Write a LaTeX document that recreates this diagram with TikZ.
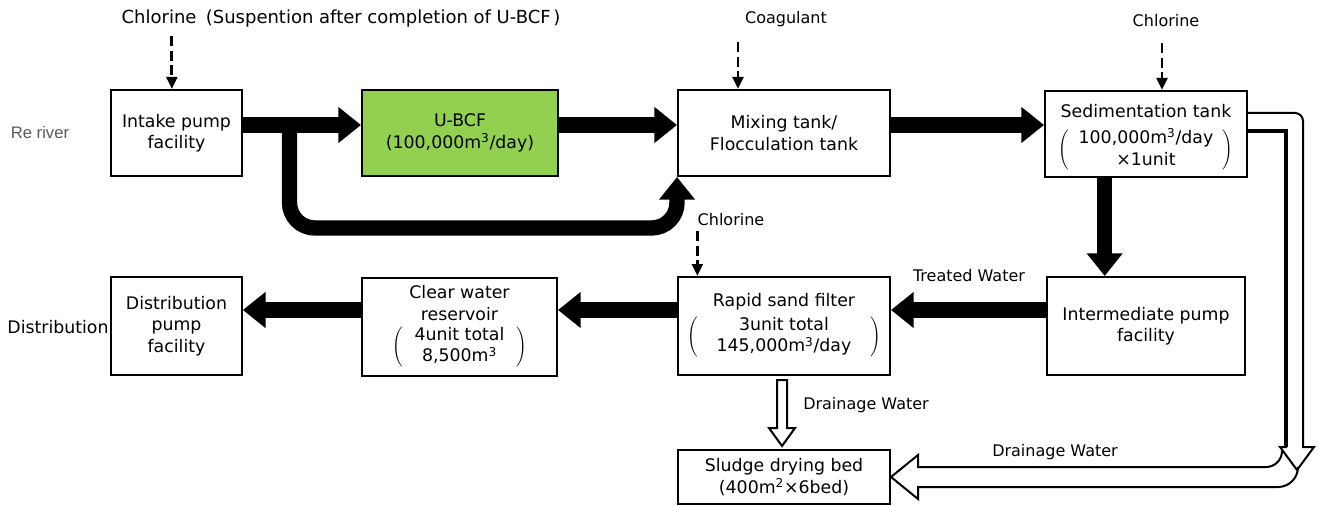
\documentclass[tikz,border=0pt]{standalone}
\usepackage{fontspec}
\setmainfont{DejaVu Sans}
\newfontfamily\riverfont{Liberation Sans}
\usetikzlibrary{arrows.meta}
\newcommand{\boxfont}{\fontsize{13}{16}\selectfont}
\newcommand{\tagfont}{\fontsize{12}{14}\selectfont}
\newcommand{\cub}{m\textsuperscript{3}}
\newcommand{\sqm}{m\textsuperscript{2}}
\newsavebox{\parenbox}
\newcommand{\paren}[2]{\sbox{\parenbox}{\begin{tabular}{@{\hspace{#1}}c@{\hspace{#1}}}#2\end{tabular}}%
  \raisebox{0pt}[\ht\parenbox][\dp\parenbox]{\delimitershortfall=7pt$\left(\usebox{\parenbox}\right)$}}

\begin{document}
\begin{tikzpicture}[x=0.75pt, y=-0.75pt]
  \tikzset{unit/.style={draw, line width=1.5pt, inner sep=0pt, align=center, font=\boxfont},
    flow/.style={line width=11.5pt, -{Triangle[width=26pt,length=17pt]}},
    feed/.style={line width=2.2pt, dash pattern=on 7.5pt off 3.5pt, -{Triangle[width=8pt,length=9pt]}},
    hollow/.style={line width=1.5pt, line join=miter},
    tag/.style={font=\tagfont, inner sep=1pt}}
  \useasboundingbox (0,0) rectangle (1319,506);
  % upper line
  \node[unit, minimum width=98pt, minimum height=64.5pt] (PU-in) at (176.5,133) {Intake pump\\facility};
  \node[unit, fill={rgb,255:red,146;green,208;blue,80}, minimum width=147pt, minimum height=64.5pt] (BCF) at (460,133) {U-BCF\\(100,000\cub/day)};
  \node[unit, minimum width=159pt, minimum height=64.5pt] (TK-mix) at (784,133) {Mixing tank/\\Flocculation tank};
  \node[unit, minimum width=151.5pt, minimum height=64.5pt] (TK-sed) at (1146,134) {\rule{0pt}{16pt}Sedimentation tank\\[7pt]\paren{7pt}{100,000\cub/day\\×1unit}};
  % lower line
  \node[unit, minimum width=148.5pt, minimum height=73.5pt] (PU-mid) at (1146,326) {Intermediate pump\\facility};
  \node[unit, minimum width=159pt, minimum height=73.5pt] (FL-sand) at (784,326) {Rapid sand filter\\[3pt]\paren{14pt}{3unit total\\145,000\cub/day}};
  \node[unit, minimum width=146.25pt, minimum height=73.5pt] (RS-clear) at (459.5,327) {Clear water\\reservoir\\[3pt]\paren{9pt}{4unit total\\8,500\cub}};
  \node[unit, minimum width=98pt, minimum height=73.5pt] (PU-out) at (176.5,326) {Distribution\\pump\\facility};
  \node[unit, minimum width=159pt, minimum height=41pt] (BD-sludge) at (784,477) {Sludge drying bed\\(400\sqm×6bed)};
  % texts
  \node[tag, font=\fontsize{13.5}{15}\selectfont] (CL-1) at (341,19) {Chlorine\hspace{7pt}(Suspention after completion of U-BCF\hspace{2pt})};
  \node[tag] (CO) at (786,19) {Coagulant};
  \node[tag] (CL-2) at (1166,21) {Chlorine};
  \node[tag] (CL-3) at (731,220) {Chlorine};
  \node[tag] (TW) at (969,276) {Treated Water};
  \node[tag] (DW-1) at (866,405) {Drainage Water};
  \node[tag] (DW-2) at (1055,452) {Drainage Water};
  \node[font=\riverfont\fontsize{12.5}{14}\selectfont, text=black!65] (RV) at (40,133) {Re river};
  \node[font=\boxfont, inner sep=0pt] (DS) at (58,327) {Distribution};
  % chemicals
  \coordinate (in-1) at ([xshift=-3.5pt]PU-in.north);
  \coordinate (in-2) at ([xshift=-34.5pt]TK-mix.north);
  \coordinate (in-3) at ([xshift=12pt]TK-sed.north);
  \coordinate (in-4) at ([xshift=-65pt]FL-sand.north);
  \draw[feed] (in-1) ++(0,-53) -- (in-1);
  \draw[feed] (in-2) ++(0,-47) -- (in-2);
  \draw[feed] (in-3) ++(0,-47) -- (in-3);
  \draw[feed] (in-4) ++(0,-45) -- (in-4);
  % water
  \draw[flow] ([yshift=6pt]PU-in.east) -- ([yshift=6pt]BCF.west);
  \draw[flow] ([yshift=6pt]BCF.east) -- ([yshift=6pt]TK-mix.west);
  \draw[flow] ([yshift=6pt]TK-mix.east) -- ([yshift=6.75pt]TK-sed.west);
  \coordinate (split) at ([xshift=35pt,yshift=6pt]PU-in.east);
  \draw[flow, rounded corners=19pt] (split) -- ++(0,103) -| (TK-mix.south west);
  \draw[flow] ([xshift=-31pt]TK-sed.south) -- ([xshift=-31pt]PU-mid.north);
  \draw[flow] ([yshift=12pt]PU-mid.west) -- ([yshift=12pt]FL-sand.east);
  \draw[flow] ([yshift=12pt]FL-sand.west) -- ([yshift=12.75pt]RS-clear.east);
  \draw[flow] ([yshift=12.75pt]RS-clear.west) -- ([yshift=12pt]PU-out.east);
  % drainage
  \draw[hollow, fill=white] ([shift={(-7,4)}]FL-sand.south) -- ++(0,48) -- ++(-8,0) -- ++(13,18) -- ++(13,-18) -- ++(-8,0) -- ++(0,-48) -- cycle;
  \draw[hollow] ([yshift=15.75pt]TK-sed.east) -- ++(47,0) arc[start angle=90,end angle=0,radius=6pt] -- ++(0,326) -- ++(11,0) -- ++(-17,23) -- ++(-17,-23) -- ++(7,0);
  \draw[hollow, line width=3pt] ([yshift=2.25pt]TK-sed.east) -| (1286,447);
  \draw[hollow] (1282,451) arc[start angle=0,end angle=-90,radius=12pt] -- (918,467) -- (918,455) -- (BD-sludge.east) -- (918,499) -- (918,487) -- (1278,487) arc[start angle=-90,end angle=0,radius=15pt];
\end{tikzpicture}
\end{document}
